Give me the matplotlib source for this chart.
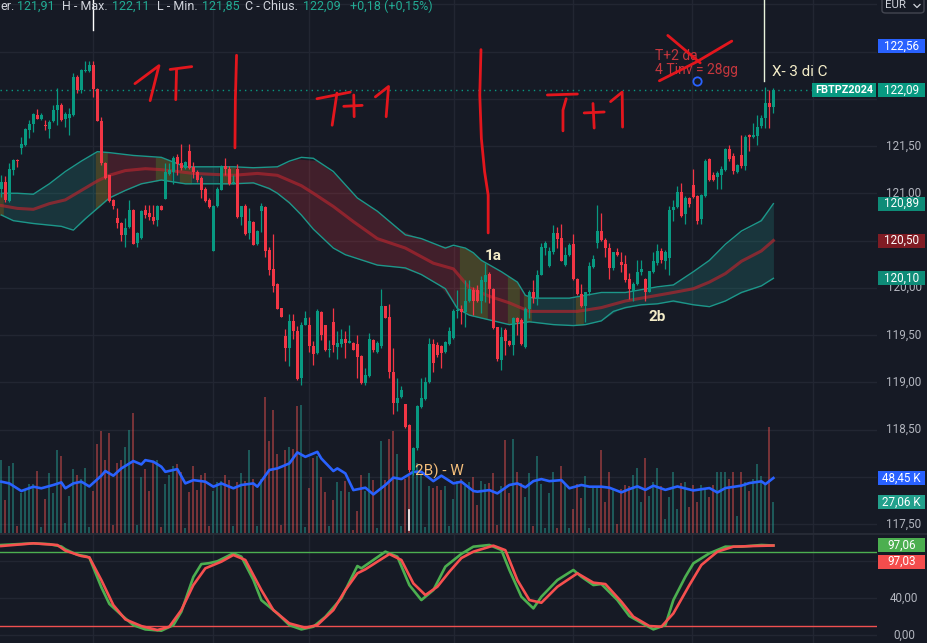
import numpy as np
import matplotlib.pyplot as plt
from matplotlib.patches import Rectangle, FancyBboxPatch
import matplotlib.transforms as mtransforms

plt.rcParams['font.family'] = ['Roboto', 'DejaVu Sans']

# ---- daily bars FBTPZ2024 ----
opens = [121.05, 121.12, 120.92, 121.25, 121.35, 121.48, 121.51, 121.67, 121.73, 121.83,
         121.79, 121.72, 121.68, 121.76, 121.88, 121.93, 121.79, 121.80, 121.83, 122.23,
         122.09, 122.29, 122.29, 122.36, 122.10, 121.76, 121.32, 121.19, 120.93, 120.74,
         120.69, 120.56, 120.64, 120.82, 120.47, 120.53, 120.82, 120.79, 120.75, 120.72,
         120.87, 120.94, 121.20, 121.23, 121.38, 121.32, 121.27, 121.45, 121.28, 121.23,
         121.16, 121.05, 120.93, 120.39, 120.86, 121.03, 121.29, 121.26, 121.11, 121.26,
         120.75, 120.87, 120.58, 120.70, 120.46, 120.81, 120.85, 120.40, 120.20, 120.04,
         119.79, 119.49, 119.36, 119.65, 119.54, 119.05, 119.61, 119.61, 119.38, 119.31,
         119.74, 119.61, 119.34, 119.64, 119.37, 119.41, 119.46, 119.42, 119.42, 119.40,
         119.28, 118.99, 119.07, 119.45, 119.32, 119.38, 119.81, 119.69, 119.11, 118.78,
         118.84, 118.77, 118.55, 118.07, 118.30, 118.74, 118.82, 119.00, 119.41, 119.39,
         119.38, 119.32, 119.41, 119.47, 119.75, 119.77, 119.74, 119.86, 119.98, 119.98,
         119.86, 120.06, 120.15, 119.99, 119.58, 119.24, 119.55, 119.44, 119.39, 119.68,
         119.66, 119.37, 119.78, 119.96, 119.89, 120.14, 120.42, 120.23, 120.38, 120.58,
         120.53, 120.24, 120.35, 120.46, 120.09, 119.93, 119.81, 119.95, 120.22, 120.47,
         120.60, 120.51, 120.42, 120.21, 120.38, 120.27, 120.25, 120.09, 119.97, 120.04,
         120.17, 120.09, 119.96, 120.17, 120.26, 120.39, 120.28, 120.31, 120.82, 120.85,
         121.01, 120.78, 120.95, 121.09, 120.97, 120.73, 120.97, 121.36, 121.19, 121.17,
         121.19, 121.25, 121.47, 121.39, 121.22, 121.41, 121.29, 121.61, 121.60, 121.61,
         121.71, 121.80, 121.95, 121.91]
highs = [121.19, 121.18, 121.32, 121.36, 121.36, 121.60, 121.69, 121.78, 121.85, 121.89,
         121.85, 121.77, 121.78, 121.93, 122.11, 121.95, 121.86, 121.90, 122.27, 122.25,
         122.31, 122.40, 122.40, 122.40, 122.11, 121.81, 121.33, 121.19, 120.94, 120.84,
         120.70, 120.74, 120.93, 120.83, 120.59, 120.82, 120.88, 120.88, 120.88, 120.88,
         120.88, 121.32, 121.32, 121.39, 121.42, 121.52, 121.34, 121.52, 121.33, 121.25,
         121.18, 121.07, 120.95, 120.88, 121.07, 121.30, 121.37, 121.29, 121.19, 121.31,
         120.87, 120.89, 120.84, 120.71, 120.61, 120.90, 120.86, 120.43, 120.57, 120.05,
         119.79, 119.56, 119.72, 119.72, 119.60, 119.64, 119.75, 119.69, 119.44, 119.78,
         119.75, 119.61, 119.45, 119.79, 119.54, 119.56, 119.54, 119.61, 119.43, 119.50,
         119.29, 119.15, 119.52, 119.46, 119.44, 119.99, 119.81, 119.83, 119.36, 119.05,
         118.96, 118.77, 118.56, 118.31, 118.76, 119.05, 119.06, 119.47, 119.46, 119.43,
         119.39, 119.44, 119.58, 119.78, 119.98, 119.82, 120.08, 120.08, 120.01, 120.03,
         120.12, 120.26, 120.17, 120.00, 119.59, 119.59, 119.57, 119.45, 119.69, 119.69,
         119.68, 119.80, 119.98, 120.08, 120.19, 120.47, 120.49, 120.43, 120.66, 120.64,
         120.68, 120.43, 120.47, 120.57, 120.10, 120.04, 119.96, 120.27, 120.35, 120.88,
         120.79, 120.53, 120.47, 120.38, 120.42, 120.38, 120.35, 120.16, 120.06, 120.29,
         120.29, 120.10, 120.18, 120.38, 120.46, 120.42, 120.40, 120.86, 120.93, 121.08,
         121.11, 120.97, 120.96, 121.26, 120.98, 120.99, 121.36, 121.37, 121.22, 121.24,
         121.29, 121.48, 121.51, 121.43, 121.31, 121.62, 121.62, 121.63, 121.74, 121.83,
         121.83, 122.12, 122.09, 122.11]
lows = [120.96, 120.91, 120.91, 121.19, 121.28, 121.42, 121.50, 121.59, 121.65, 121.79,
        121.78, 121.67, 121.59, 121.75, 121.72, 121.76, 121.70, 121.62, 121.82, 122.06,
        122.06, 122.28, 122.28, 122.02, 121.76, 121.30, 121.15, 120.91, 120.83, 120.63,
        120.49, 120.43, 120.63, 120.46, 120.43, 120.52, 120.74, 120.72, 120.68, 120.65,
        120.82, 120.94, 121.19, 121.10, 121.19, 121.25, 121.26, 121.26, 121.16, 121.12,
        120.95, 120.91, 120.84, 120.39, 120.85, 121.03, 121.19, 121.09, 121.10, 120.74,
        120.66, 120.56, 120.52, 120.45, 120.45, 120.59, 120.33, 120.14, 119.96, 119.78,
        119.69, 119.22, 119.17, 119.46, 119.02, 118.97, 119.61, 119.32, 119.18, 119.30,
        119.45, 119.33, 119.27, 119.32, 119.25, 119.37, 119.26, 119.42, 119.34, 119.04,
        118.98, 118.97, 119.06, 119.32, 119.31, 119.36, 119.68, 119.04, 118.66, 118.70,
        118.83, 118.52, 118.05, 118.02, 118.28, 118.73, 118.81, 118.99, 119.11, 119.27,
        119.15, 119.31, 119.39, 119.46, 119.68, 119.62, 119.59, 119.85, 119.71, 119.85,
        119.73, 119.85, 119.84, 119.56, 119.22, 119.13, 119.29, 119.38, 119.29, 119.50,
        119.39, 119.36, 119.68, 119.84, 119.82, 120.14, 120.35, 120.22, 120.36, 120.42,
        120.28, 120.23, 120.34, 120.08, 119.92, 119.80, 119.64, 119.92, 120.21, 120.42,
        120.49, 120.33, 120.09, 120.19, 120.34, 120.17, 120.06, 119.88, 119.86, 120.03,
        120.13, 119.86, 119.95, 120.16, 120.24, 120.26, 120.20, 120.14, 120.71, 120.84,
        120.75, 120.67, 120.85, 120.95, 120.68, 120.67, 120.96, 121.13, 121.13, 121.04,
        121.04, 121.24, 121.34, 121.20, 121.21, 121.27, 121.25, 121.45, 121.58, 121.51,
        121.69, 121.69, 121.69, 121.85]
closes = [121.12, 120.93, 121.26, 121.35, 121.34, 121.52, 121.68, 121.73, 121.84, 121.79,
          121.83, 121.71, 121.75, 121.88, 121.93, 121.77, 121.84, 121.84, 122.23, 122.09,
          122.30, 122.30, 122.36, 122.10, 121.76, 121.32, 121.16, 120.92, 120.86, 120.69,
          120.56, 120.63, 120.82, 120.46, 120.58, 120.81, 120.77, 120.75, 120.71, 120.86,
          120.82, 121.23, 121.25, 121.37, 121.31, 121.27, 121.33, 121.27, 121.23, 121.14,
          121.03, 120.92, 120.85, 120.86, 121.05, 121.29, 121.26, 121.10, 121.12, 120.75,
          120.87, 120.57, 120.71, 120.45, 120.60, 120.87, 120.39, 120.19, 120.02, 119.78,
          119.69, 119.36, 119.65, 119.54, 119.03, 119.61, 119.68, 119.38, 119.30, 119.75,
          119.50, 119.34, 119.35, 119.39, 119.42, 119.46, 119.42, 119.43, 119.34, 119.27,
          118.99, 119.08, 119.46, 119.34, 119.42, 119.81, 119.68, 119.11, 118.78, 118.83,
          118.92, 118.53, 118.07, 118.30, 118.75, 118.83, 119.00, 119.41, 119.20, 119.29,
          119.31, 119.43, 119.54, 119.75, 119.76, 119.74, 119.86, 119.99, 119.86, 119.86,
          120.08, 120.14, 119.99, 119.57, 119.25, 119.48, 119.44, 119.39, 119.68, 119.64,
          119.41, 119.78, 119.96, 119.89, 120.14, 120.43, 120.47, 120.39, 120.58, 120.52,
          120.28, 120.35, 120.45, 120.09, 119.93, 119.81, 119.95, 120.23, 120.30, 120.60,
          120.51, 120.42, 120.21, 120.38, 120.35, 120.24, 120.08, 119.99, 120.04, 120.17,
          120.20, 119.96, 120.18, 120.28, 120.39, 120.29, 120.38, 120.82, 120.85, 121.01,
          120.76, 120.95, 120.89, 120.96, 120.71, 120.98, 121.34, 121.14, 121.14, 121.21,
          121.26, 121.47, 121.36, 121.24, 121.30, 121.29, 121.60, 121.60, 121.61, 121.70,
          121.80, 121.95, 121.91, 122.09]
# volume in thousands
volumes = [64, 29, 59, 62, 6, 35, 38, 43, 43, 55,
           5, 30, 53, 35, 73, 68, 9, 33, 56, 51,
           48, 57, 5, 37, 78, 90, 64, 88, 7, 62,
           64, 76, 91, 106, 7, 49, 56, 37, 62, 64,
           5, 43, 51, 59, 61, 54, 4, 36, 59, 38,
           51, 53, 6, 37, 45, 46, 51, 47, 6, 45,
           53, 46, 73, 48, 6, 48, 120, 81, 108, 70,
           7, 73, 76, 74, 112, 113, 5, 40, 66, 68,
           49, 36, 6, 29, 45, 37, 46, 36, 3, 19,
           51, 37, 53, 47, 4, 81, 47, 83, 90, 70,
           6, 48, 50, 75, 62, 51, 5, 41, 40, 41,
           38, 41, 6, 30, 46, 48, 41, 45, 49, 25,
           46, 43, 44, 53, 7, 41, 82, 35, 83, 54,
           44, 32, 53, 6, 68, 43, 4, 35, 54, 4,
           59, 43, 4, 21, 43, 31, 50, 4, 41, 41,
           73, 27, 54, 38, 8, 39, 42, 41, 51, 57,
           27, 66, 33, 45, 57, 41, 12, 32, 54, 21,
           44, 45, 23, 42, 27, 42, 40, 32, 42, 54,
           54, 54, 48, 54, 15, 54, 45, 37, 48, 61,
           50, 42, 93, 27.06]

# volume moving average (blue line), bar index -> thousands
vol_ma_x = [0, 2, 5, 8, 10, 13, 15, 16, 18, 20, 22, 25, 26, 28, 30, 33, 35, 36, 38, 40,
            41, 44, 46, 48, 51, 53, 55, 58, 60, 63, 64, 67, 69, 72, 74, 76, 79, 80, 83, 84,
            86, 88, 91, 93, 96, 98, 100, 103, 105, 108, 110, 113, 115, 118, 119, 122, 124, 127,
            129, 131, 133, 135, 137, 140, 142, 145, 147, 150, 152, 155, 157, 159, 161, 163,
            166, 169, 173, 177, 179, 181, 185, 187, 190, 191, 193]
vol_ma = [45.2, 43.7, 37.0, 40.8, 39.4, 42.3, 44.6, 39.4, 43.7, 45.2, 41.0, 50.5, 54.6, 50.5,
          56.9, 63.4, 60.4, 64.2, 62.8, 58.4, 53.9, 56.3, 43.7, 46.6, 45.2, 40.8, 43.7, 39.4,
          42.3, 43.7, 40.8, 55.5, 56.9, 61.3, 71.0, 67.1, 71.5, 65.6, 54.6, 56.9, 52.5, 37.8,
          39.9, 34.0, 42.3, 48.8, 47.5, 53.9, 53.9, 45.7, 50.5, 43.7, 45.2, 37.0, 36.4, 37.8,
          34.9, 42.3, 43.7, 40.2, 45.7, 47.5, 45.7, 46.6, 39.4, 42.3, 40.8, 40.8, 39.9, 35.8,
          38.7, 41.1, 38.0, 41.7, 38.0, 41.0, 37.5, 39.6, 35.7, 39.6, 41.7, 44.0, 45.5, 43.0,
          48.45]

# price channel (upper / mid / lower) read at sample bars
upper_x = [0, 4, 8, 12, 16, 20, 24, 27, 33, 40, 46, 53, 58, 63, 69, 72, 75, 78, 83, 89, 94,
           101, 105, 111, 113, 116, 118, 120, 125, 129, 131, 133, 142, 146, 150, 156, 164, 168,
           173, 177, 181, 185, 190, 193]
upper_y = [121.00, 121.00, 120.99, 121.10, 121.23, 121.34, 121.44, 121.43, 121.40, 121.38,
           121.28, 121.28, 121.28, 121.27, 121.28, 121.34, 121.38, 121.37, 121.23, 120.95,
           120.81, 120.56, 120.52, 120.42, 120.45, 120.42, 120.37, 120.29, 120.17, 120.06,
           119.92, 119.89, 119.89, 119.92, 119.95, 119.95, 120.01, 120.03, 120.17, 120.29,
           120.46, 120.60, 120.71, 120.89]
mid_x = [0, 4, 8, 12, 16, 20, 24, 27, 31, 36, 40, 48, 58, 64, 69, 75, 78, 83, 88, 94, 101,
         108, 113, 117, 122, 127, 132, 138, 144, 150, 156, 164, 168, 173, 177, 181, 185, 190, 193]
mid_y = [120.87, 120.84, 120.83, 120.89, 120.93, 121.03, 121.13, 121.19, 121.24, 121.26,
         121.25, 121.21, 121.19, 121.21, 121.19, 121.08, 121.00, 120.86, 120.70, 120.52,
         120.42, 120.26, 120.20, 120.00, 119.91, 119.84, 119.75, 119.75, 119.75, 119.79,
         119.86, 119.92, 119.95, 119.99, 120.06, 120.15, 120.28, 120.39, 120.50]
lower_x = [0, 3, 8, 15, 18, 21, 24, 27, 31, 35, 40, 46, 53, 58, 63, 67, 69, 72, 75, 78, 83,
           86, 94, 101, 105, 111, 114, 117, 122, 127, 132, 138, 143, 146, 150, 153, 156, 160,
           164, 168, 173, 177, 181, 185, 190, 193]
lower_y = [120.77, 120.71, 120.68, 120.65, 120.61, 120.73, 120.84, 120.95, 121.03, 121.10,
           121.14, 121.10, 121.10, 121.10, 121.11, 121.05, 121.00, 120.90, 120.77, 120.62,
           120.42, 120.35, 120.24, 120.21, 120.14, 119.99, 119.78, 119.71, 119.66, 119.61,
           119.64, 119.61, 119.60, 119.61, 119.65, 119.75, 119.79, 119.82, 119.83, 119.86,
           119.82, 119.80, 119.86, 119.95, 120.02, 120.10]
# channel fill state per run of bars (first bar, last bar, state)
band_states = [(0, 0, 'in'), (1, 23, 'up'), (24, 26, 'in'), (27, 38, 'down'), (39, 42, 'in'),
               (43, 44, 'up'), (45, 47, 'in'), (48, 54, 'up'), (55, 58, 'in'), (59, 114, 'down'),
               (115, 121, 'in'), (122, 126, 'down'), (127, 129, 'in'), (130, 130, 'down'),
               (131, 132, 'in'), (133, 143, 'up'), (144, 145, 'in'), (146, 193, 'up')]

# stochastic oscillator %K (green) and %D (red)
stoch_k_x = [0, 4, 8, 12, 15, 16, 19, 21, 22, 25, 27, 30, 33, 36, 40, 43, 45, 48, 50, 52, 54,
             58, 60, 63, 65, 69, 72, 75, 78, 81, 85, 89, 90, 93, 96, 99, 102, 105, 108, 111,
             115, 118, 122, 125, 127, 130, 133, 135, 139, 143, 145, 148, 150, 154, 157, 161,
             163, 166, 168, 171, 173, 177, 181, 185, 190, 193]
stoch_k = [97.6, 98.5, 99.4, 98.5, 96.0, 93.0, 87.0, 85.5, 84.0, 52.0, 34.0, 22.0, 11.0, 6.4,
           5.0, 11.0, 25.5, 63.0, 77.0, 78.0, 80.0, 88.6, 85.0, 60.0, 38.0, 23.7, 11.0, 6.4,
           9.3, 20.0, 40.0, 74.9, 72.4, 81.4, 90.4, 85.0, 54.3, 38.1, 48.9, 74.2, 88.0, 95.8,
           97.6, 92.2, 70.6, 41.7, 29.1, 41.7, 59.7, 70.6, 63.3, 54.3, 55.4, 38.1, 20.8, 11.1,
           6.4, 11.1, 38.1, 63.3, 77.8, 88.6, 95.8, 95.8, 97.6, 97.06]
stoch_d_x = [0, 8, 14, 16, 20, 22, 25, 28, 31, 35, 39, 42, 45, 48, 51, 55, 58, 61, 65, 68,
             72, 76, 79, 83, 86, 89, 91, 94, 97, 100, 103, 106, 109, 112, 115, 118, 123, 126,
             129, 132, 135, 139, 144, 148, 151, 155, 158, 162, 165, 168, 172, 175, 179, 183,
             188, 193]
stoch_d = [96.5, 99.4, 97.6, 91.5, 85.7, 84.2, 59.7, 32.7, 17.2, 10.0, 5.7, 9.3, 27.3, 54.3,
           72.4, 79.6, 86.8, 81.4, 48.9, 27.3, 12.9, 8.2, 11.1, 27.3, 48.9, 67.0, 71.3, 79.6,
           87.8, 81.4, 56.1, 43.5, 52.5, 68.7, 83.5, 90.4, 96.9, 92.0, 59.7, 38.1, 35.2, 52.5,
           67.0, 56.9, 55.4, 36.3, 20.1, 10.0, 9.3, 23.7, 54.3, 76.0, 90.4, 95.8, 96.5, 97.03]

# only the scale labels that are not covered by a tag
price_ticks = [121.5, 121.0, 120.0, 119.5, 119.0, 118.5, 117.5]
osc_ticks = [80, 40, 0]
osc_labels = [40, 0]
date_lines = [22.9, 52.9, 76.9, 113.2, 142.9, 172.7, 202.9]

# hand drawn marks (bar index, price)
brush_strokes = [
    [(33.4, 122.16), (39.4, 122.35), (38.4, 122.18), (37.2, 121.98)],
    [(42.2, 122.31), (47.6, 122.34)],
    [(43.8, 122.31), (43.6, 121.99)],
    [(58.8, 122.46), (58.5, 121.99), (58.4, 121.48)],
    [(78.9, 122.00), (87.2, 122.07)],
    [(83.9, 122.06), (82.7, 121.72)],
    [(85.6, 121.92), (90.2, 121.93)],
    [(88.1, 122.04), (88.2, 121.81)],
    [(93.5, 122.02), (96.8, 122.13), (96.2, 121.81)],
    [(119.9, 122.52), (119.6, 122.04), (120.0, 121.58), (120.8, 121.23), (121.7, 120.98), (121.7, 120.58)],
    [(136.5, 122.04), (144.0, 122.05)],
    [(141.2, 122.00), (140.4, 121.88), (140.4, 121.66)],
    [(145.7, 121.85), (150.7, 121.86)],
    [(147.9, 121.95), (148.2, 121.69)],
    [(152.3, 121.97), (155.2, 122.07), (155.3, 121.70)],
    [(166.6, 122.67), (174.7, 122.38)],
    [(164.5, 122.19), (173.8, 122.39), (182.6, 122.61)],
]

BG = '#161a25'
GRID = '#222632'
UP, DOWN = '#089981', '#f23645'
AXTXT = '#b2b5be'
W, H = 927, 643
PLOT_R = 877

n = len(closes)
idx = np.arange(n)
o, c = np.array(opens), np.array(closes)
up_bar = c >= o
bar_col = np.where(up_bar, UP, DOWN)

fig = plt.figure(figsize=(W / 100, H / 100), dpi=100, facecolor=BG)


def box(x0, y0, x1, y1):
    return [x0 / W, 1 - y1 / H, (x1 - x0) / W, (y1 - y0) / H]


axv = fig.add_axes(box(0, 0, PLOT_R, 533))
ax = fig.add_axes(box(0, 0, PLOT_R, 533), sharex=axv)
axo = fig.add_axes(box(0, 535, PLOT_R, H), sharex=axv)
axv.set_zorder(0)
ax.set_zorder(1)
for a in (axv, ax, axo):
    a.axis('off')
ax.set_xlim(-0.333, 218.9)
ax.set_ylim(117.405, 123.045)
axv.set_ylim(0, 469.6)
axo.set_ylim(-8.3, 108.4)

# grid (kept inside the volume axes so it sits under everything)
price_tr = mtransforms.blended_transform_factory(axv.transAxes, ax.transData)
for p in np.arange(117.5, 123.01, 0.5):
    axv.plot([0, 1], [p, p], transform=price_tr, color=GRID, lw=1, zorder=0)
for x in date_lines:
    axv.axvline(x, color=GRID, lw=1, zorder=0)
    axo.axvline(x, color=GRID, lw=1, zorder=0)
for v in osc_ticks:
    axo.axhline(v, color=GRID, lw=1, zorder=0)

# volume
axv.bar(idx, volumes, width=0.5, color=np.where(up_bar, '#26a69a', '#ef5350'), alpha=0.45,
        linewidth=0, zorder=1)
axv.plot(vol_ma_x, vol_ma, color='#2962ff', lw=1.9, zorder=2)

# channel
fill_style = {'up': ('#26a69a', 0.2), 'down': ('#f23645', 0.2), 'in': ('#ffeb3b', 0.2)}
for a, b, state in band_states:
    xs = np.linspace(a - 0.5, min(b + 0.5, n - 1), 12)
    top = np.interp(xs, upper_x, upper_y)
    bot = np.interp(xs, lower_x, lower_y)
    col, al = fill_style[state]
    ax.fill_between(xs, bot, top, color=col, alpha=al, lw=0, zorder=1)
ax.plot(upper_x, upper_y, color='#1c978a', lw=1.0, zorder=2)
ax.plot(lower_x, lower_y, color='#1c978a', lw=1.0, zorder=2)
ax.plot(mid_x, mid_y, color='#b0262f', lw=2.2, alpha=0.7, zorder=2)

# last price line
ax.axhline(closes[-1], color=UP, lw=1, ls=(0, (1, 3)), zorder=2)

# candles
ax.vlines(idx, lows, highs, colors=bar_col, lw=0.9, zorder=3)
body_lo = np.minimum(o, c)
body_h = np.maximum(np.abs(c - o), 0.012)
ax.bar(idx, body_h, bottom=body_lo, width=0.72, color=bar_col, linewidth=0, zorder=4)

# drawings
for s in brush_strokes:
    xs, ys = zip(*s)
    ax.plot(xs, ys, color='#e3161d', lw=2.0, solid_capstyle='round', zorder=6)
ax.text(163.4, 122.38, 'T+2 da\n4 Tinv = 28gg', color='#d83a40', fontsize=10, ha='left',
        va='center', linespacing=1.0, alpha=0.9, zorder=5)
ax.plot([174.0], [122.19], marker='o', ms=6, mfc='none', mec='#2962ff', mew=1.3, zorder=6)
ax.plot([190.7, 190.7], [123.1, 122.19], color='#e8f3dc', lw=1, zorder=6)
ax.plot([22.9, 22.9], [123.1, 122.73], color='white', lw=1, zorder=6)
ax.plot([102, 102], [117.65, 117.44], color='white', lw=1.2, zorder=6)
ax.text(192.6, 122.28, 'X- 3 di C', color='#f3ecc8', fontsize=11, ha='left', va='center', zorder=7)
ax.text(120.8, 120.34, '1a', color='#f3ecc8', fontsize=11, fontweight='bold', ha='left',
        va='center', zorder=7)
ax.text(161.7, 119.69, '2b', color='#f3ecc8', fontsize=11, fontweight='bold', ha='left',
        va='center', zorder=7)
ax.text(103.4, 118.06, '2B) - W', color='#f3bd7a', fontsize=11, ha='left', va='center', zorder=7)

# stochastic
axo.axhline(90, color='#4caf50', lw=1, zorder=1)
axo.axhline(10, color='#f05050', lw=1, zorder=1)
axo.plot(stoch_k_x, stoch_k, color='#4caf50', lw=1.9, zorder=3)
axo.plot(stoch_d_x, stoch_d, color='#f7504f', lw=1.9, zorder=4)

# pane separator
fig.add_artist(plt.Line2D([0, 1], [1 - 534 / H, 1 - 534 / H], transform=fig.transFigure,
                          color='#2a2e39', lw=1.2))


def y_px(axis, v):
    return H - axis.transData.transform((0, v))[1]


def fmt(v):
    return f'{v:.2f}'.replace('.', ',')


def scale_tag(axis, v, text, bg, dy=0):
    yc = y_px(axis, v) + dy
    fig.add_artist(Rectangle((878 / W, 1 - (yc + 7) / H), 47 / W, 14 / H, transform=fig.transFigure,
                             facecolor=bg, edgecolor='none', zorder=5))
    fig.text(901.5 / W, 1 - yc / H, text, color='white', fontsize=8.4, ha='center', va='center',
             zorder=6)


for p in price_ticks:
    fig.text(904 / W, 1 - y_px(ax, p) / H, fmt(p), color=AXTXT, fontsize=8.4, ha='center',
             va='center', zorder=4)
for v in osc_labels:
    fig.text(904 / W, 1 - y_px(axo, v) / H, fmt(v), color=AXTXT, fontsize=8.4, ha='center',
             va='center', zorder=4)

scale_tag(ax, 122.56, '122,56', '#2962ff')
scale_tag(ax, closes[-1], fmt(closes[-1]), UP)
scale_tag(ax, upper_y[-1], fmt(upper_y[-1]), '#0e8c78')
scale_tag(ax, mid_y[-1], fmt(mid_y[-1]), '#801c24')
scale_tag(ax, lower_y[-1], fmt(lower_y[-1]), '#0e8c78')
scale_tag(axv, vol_ma[-1], fmt(vol_ma[-1]) + ' K', '#2962ff')
scale_tag(axv, volumes[-1], fmt(volumes[-1]) + ' K', '#22a08c')
scale_tag(axo, stoch_k[-1], fmt(stoch_k[-1]), '#4caf50')
scale_tag(axo, stoch_d[-1], fmt(stoch_d[-1]), '#f44d4d', dy=16)

# symbol tag on the last price line
yc = y_px(ax, closes[-1])
fig.add_artist(Rectangle((812 / W, 1 - (yc + 7) / H), 64 / W, 14 / H, transform=fig.transFigure,
                         facecolor=UP, edgecolor='none', zorder=5))
fig.text(844 / W, 1 - yc / H, 'FBTPZ2024', color='white', fontsize=7.8, fontweight='bold',
         ha='center', va='center', zorder=6)

# currency selector
fig.add_artist(FancyBboxPatch((882 / W, 1 - 13 / H), 42 / W, 16 / H, transform=fig.transFigure,
                              boxstyle='round,pad=0,rounding_size=0.004', facecolor=BG,
                              edgecolor='#434651', lw=1, zorder=5))
fig.text(885 / W, 1 - 5.5 / H, 'EUR', color='#d1d4dc', fontsize=8.2, ha='left', va='center', zorder=6)
fig.add_artist(plt.Line2D([914 / W, 917 / W, 920 / W], [1 - 4.5 / H, 1 - 7.5 / H, 1 - 4.5 / H],
                          transform=fig.transFigure, color='#d1d4dc', lw=0.9, zorder=6))

# legend line at the top
legend_bits = [('er.', 0, '#d1d4dc'), ('121,91', 17, '#22ab94'), ('H - Max.', 62, '#d1d4dc'),
               ('122,11', 112, '#22ab94'), ('L - Min.', 157, '#d1d4dc'), ('121,85', 202, '#22ab94'),
               ('C - Chius.', 245, '#d1d4dc'), ('122,09', 303, '#22ab94'),
               ('+0,18 (+0,15%)', 350, '#22ab94')]
for txt, x, col in legend_bits:
    fig.text(x / W, 1 - 6 / H, txt, color=col, fontsize=9, ha='left', va='center', zorder=6)

fig.savefig('out.png', dpi=100, facecolor=BG)
